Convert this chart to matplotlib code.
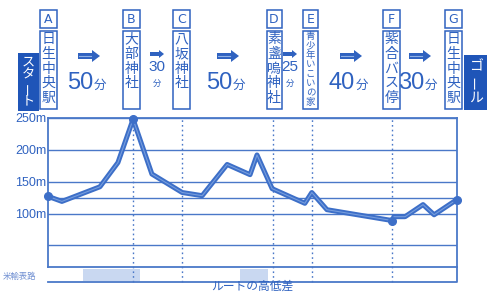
import matplotlib
matplotlib.use('Agg')
import matplotlib.pyplot as plt
from matplotlib.patches import Rectangle, FancyArrow

# ---------------- data ----------------
station_letters = ['A', 'B', 'C', 'D', 'E', 'F', 'G']
station_names = ['日生中央駅', '大部神社', '八坂神社', '素盞嗚神社',
                 '青少年いこいの家', '紫合バス停', '日生中央駅']
station_pos = [0, 20.8, 32.8, 55.0, 64.5, 84.1, 100]      # % of route
station_elev = [127, 248, 133, 139, 133, 89, 122]          # m
leg_minutes = [50, 30, 50, 25, 40, 30]

profile_x = [0, 3.4, 12.7, 17.1, 20.8, 25.4, 32.8, 37.7, 43.8, 49.4, 51.1,
             54.8, 62.8, 64.5, 68.2, 84.1, 84.6, 87.3, 91.7, 94.4, 100]
profile_elev = [127, 119, 142, 180, 248, 162, 133, 128, 177, 161, 192,
                139, 116, 133, 106, 89, 95, 95, 114, 98, 122]

elev_ticks = [100, 150, 200, 250]
grid_levels = [50, 100, 125, 150, 200, 250]
title = 'ルートの高低差'
note = '米輸表路'

# ---------------- style ----------------
W, H = 487, 293
BLUE = '#2f62c0'
DARK = '#1f55b8'
LINE = '#3d6fc8'
GRID = '#4a78c8'
CJK = ['Noto Sans CJK JP', 'DejaVu Sans']
NARROW = ['Liberation Sans Narrow', 'Liberation Sans', 'DejaVu Sans']

fig = plt.figure(figsize=(W / 100, H / 100), dpi=100)
fig.patch.set_facecolor('white')

# overlay in pixel coordinates (origin top-left)
ov = fig.add_axes([0, 0, 1, 1], zorder=0)
ov.set_xlim(0, W)
ov.set_ylim(H, 0)
ov.axis('off')
ov.patch.set_alpha(0)

# chart axes
L, R, T, B = 48, 457, 118, 267
ax = fig.add_axes([L / W, 1 - B / H, (R - L) / W, (B - T) / H], zorder=2)
ax.patch.set_alpha(0)
ax.set_xlim(0, 100)
ax.set_ylim(16, 250)

for lv in grid_levels:
    ax.axhline(lv, color=GRID, lw=1.0, zorder=1)
for sx in station_pos[1:-1]:
    ax.vlines(sx, -7.5, 250, colors=GRID, lw=1.0, linestyles=(0, (1.2, 2.2)),
              clip_on=False, zorder=1)

ax.plot(profile_x, profile_elev, color=LINE, lw=3.6, solid_joinstyle='round',
        solid_capstyle='round', zorder=3, clip_on=False)
ax.plot(profile_x, profile_elev, color='#8fb1e6', lw=0.8, alpha=0.7, zorder=4,
        clip_on=False)
ax.plot([station_pos[i] for i in (0, 1, 5, 6)],
        [station_elev[i] for i in (0, 1, 5, 6)], 'o', color=LINE, ms=5.5,
        zorder=5, clip_on=False)

ax.set_yticks(elev_ticks)
ax.set_yticklabels([f'{t}m' for t in elev_ticks])
ax.tick_params(axis='y', length=0, pad=1, labelsize=9, labelcolor=BLUE)
ax.set_xticks([])
for lab in ax.get_yticklabels():
    lab.set_fontfamily(NARROW)
for s in ['left', 'right', 'bottom', 'top']:
    ax.spines[s].set_color(GRID)
    ax.spines[s].set_linewidth(1.3)

# strip below the chart
ov.add_patch(Rectangle((83, 269), 57, 12, facecolor='#c9d8f1', edgecolor='none'))
ov.add_patch(Rectangle((240, 269), 28, 12, facecolor='#c9d8f1', edgecolor='none'))
ov.plot([L, R, R], [282, 282, B], color=GRID, lw=1.3)
ov.text(3, 276, note, fontsize=6, color='#6f8fd2', family=CJK, va='center')

# title (sits at the bottom edge)
ov.text(252, 292.5, title, fontsize=8.5, color=BLUE, family=CJK, ha='center',
        va='bottom')

# ---------------- top labels ----------------
def vtext(x, y0, s, size, pitch, color):
    for i, ch in enumerate(s):
        rot = 90 if ch == 'ー' else 0
        ov.text(x, y0 + i * pitch + pitch / 2, ch, fontsize=size, color=color,
                family=CJK, ha='center', va='center', rotation=rot)

col_x = [48.5, 131.5, 181.5, 274, 310.5, 391.5, 453.5]
for i, (let, name) in enumerate(zip(station_letters, station_names)):
    cx = col_x[i]
    bw = 15 if i in (3, 4) else 17
    ov.add_patch(Rectangle((cx - bw / 2, 10), bw, 18, fill=False,
                           edgecolor=BLUE, lw=1.1))
    ov.text(cx, 19.5, let, fontsize=9, color=BLUE, ha='center', va='center',
            family=['DejaVu Sans'])
    ov.add_patch(Rectangle((cx - bw / 2, 31), bw, 78, fill=False,
                           edgecolor=BLUE, lw=1.1))
    if len(name) > 6:
        vtext(cx, 32, name, 6.8, 9.4, BLUE)
    else:
        vtext(cx, 32, name, 10, 14.6, BLUE)

# start / goal badges
ov.add_patch(Rectangle((18, 53), 21, 58, facecolor=DARK, edgecolor='none'))
vtext(28.5, 55, 'スタート', 9.5, 13.5, 'white')
ov.add_patch(Rectangle((464, 55), 23, 55, facecolor=DARK, edgecolor='none'))
vtext(475.5, 58, 'ゴール', 10, 16, 'white')

# time arrows
leg_x = [89, 157, 228, 290, 351, 420]
small = [False, True, False, True, False, False]
for m, cx, sm in zip(leg_minutes, leg_x, small):
    if sm:
        ov.add_patch(FancyArrow(cx - 7, 54, 9, 0, width=4, head_width=8,
                                head_length=5, color=BLUE, lw=0))
        ov.text(cx, 67, str(m), fontsize=11, color=BLUE, family=NARROW,
                ha='center', va='center')
        ov.text(cx, 83, '分', fontsize=6, color=BLUE, family=CJK,
                ha='center', va='center')
    else:
        ov.add_patch(FancyArrow(cx - 11, 56, 14, 0, width=6, head_width=12,
                                head_length=8, color=BLUE, lw=0))
        ov.plot([cx - 10, cx + 2], [56, 56], color='#8fb1e6', lw=0.8)
        ov.text(cx + 4, 89, str(m), fontsize=17, color=BLUE, family=NARROW,
                ha='right', va='baseline')
        ov.text(cx + 4.5, 89, '分', fontsize=9, color=BLUE, family=CJK,
                ha='left', va='baseline')

fig.savefig('out.png', dpi=100, facecolor='white')
